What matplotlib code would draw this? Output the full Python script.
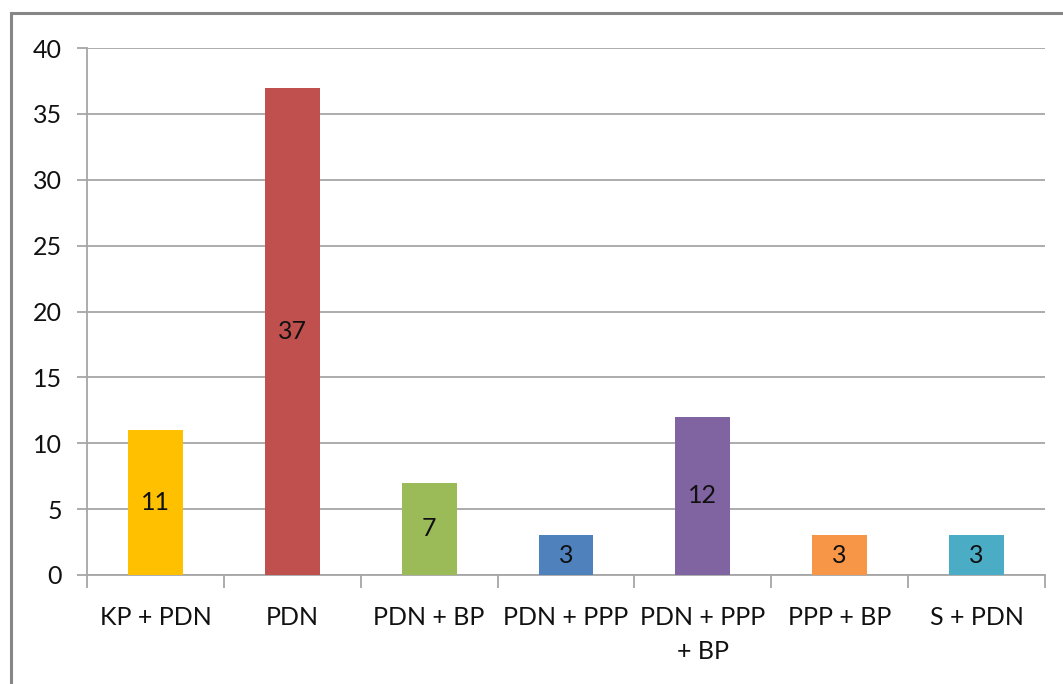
import matplotlib
matplotlib.use("Agg")
import matplotlib.pyplot as plt
from matplotlib.patches import Rectangle

categories = ["KP + PDN", "PDN", "PDN + BP", "PDN + PPP", "PDN + PPP\n+ BP", "PPP + BP", "S + PDN"]
values = [11, 37, 7, 3, 12, 3, 3]
colors = ["#FFC000", "#C0504D", "#9BBB59", "#4F81BD", "#8064A2", "#F79646", "#4BACC6"]
yticks = [0, 5, 10, 15, 20, 25, 30, 35, 40]

plt.rcParams['font.family'] = ['Lato', 'DejaVu Sans']

W, H = 1063, 684
fig = plt.figure(figsize=(W / 100, H / 100), dpi=100)
fig.patch.set_facecolor("white")

# outer chart frame (only left/top visible)
fig.add_artist(Rectangle((11 / W, -0.05), 1.2, (H - 13) / H + 0.05, transform=fig.transFigure,
                         fill=False, edgecolor="#868686", linewidth=2.2))

ax = fig.add_axes([87 / W, (H - 575) / H, (1045 - 87) / W, (575 - 48) / H])
x = list(range(len(categories)))
bars = ax.bar(x, values, width=0.40, color=colors, zorder=3)
for xi, v in zip(x, values):
    ax.text(xi, v / 2, str(v), ha="center", va="center", fontsize=18, color="#111111", zorder=4)

ax.set_xlim(-0.5, len(categories) - 0.5)
ax.set_ylim(0, 40)
ax.set_yticks(yticks)
ax.set_yticklabels([str(t) for t in yticks], fontsize=18, color="#111111")
ax.set_xticks(x)
ax.set_xticklabels(categories, fontsize=18, color="#111111", linespacing=1.6, va="top")
ax.yaxis.grid(True, color="#a6a6a6", linewidth=1.3, zorder=0)
ax.set_axisbelow(True)

for s in ["top", "right"]:
    ax.spines[s].set_visible(False)
ax.spines["left"].set_color("#a6a6a6")
ax.spines["bottom"].set_color("#a6a6a6")
ax.spines["left"].set_linewidth(1.3)
ax.spines["bottom"].set_linewidth(1.3)

ax.tick_params(axis="y", length=7, color="#a6a6a6", width=1.3, pad=11)
ax.tick_params(axis="x", length=0, pad=22)
# category boundary tick marks
ax.set_xticks([i - 0.5 for i in range(len(categories) + 1)], minor=True)
ax.tick_params(axis="x", which="minor", length=9, color="#a6a6a6", width=1.3)

fig.savefig("out.png", dpi=100, facecolor="white")
